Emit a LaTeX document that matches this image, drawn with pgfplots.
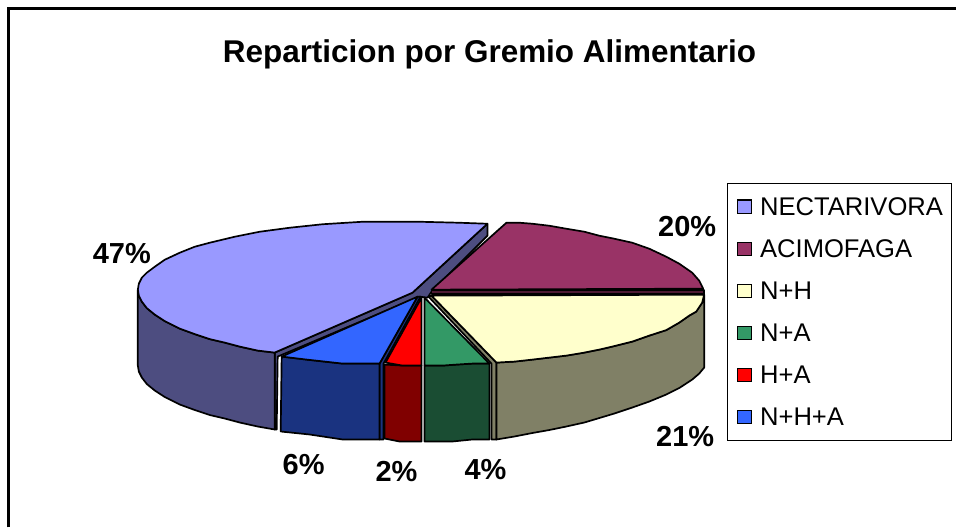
\documentclass[border=0pt]{standalone}
\usepackage{pgfplots}
\pgfplotsset{compat=1.18}
\usepackage{fontspec}
\setmainfont{Liberation Sans}
\definecolor{nect}{HTML}{9999FF}\definecolor{nectS}{HTML}{4D4D80}
\definecolor{acim}{HTML}{993366}\definecolor{acimS}{HTML}{4D1A33}
\definecolor{nh}{HTML}{FFFFCC}\definecolor{nhS}{HTML}{808066}
\definecolor{na}{HTML}{339966}\definecolor{naS}{HTML}{1A4D33}
\definecolor{ha}{HTML}{FF0000}\definecolor{haS}{HTML}{800000}
\definecolor{nha}{HTML}{3366FF}\definecolor{nhaS}{HTML}{1A3380}
\pgfplotsset{
 sl/.style={draw=black,line width=1.7pt,line join=round,fill=#1,forget plot},
 lg/.style={legend image code/.code={\draw[fill=#1,draw=black,line width=1.3pt,line join=miter] (0pt,-6.5pt) rectangle (14pt,7pt);\path (20pt,0pt);\path (-3pt,0pt);}},
}
\begin{document}
\begin{tikzpicture}
\begin{axis}[
 scale only axis,width=957pt,height=528pt,
 xmin=0,xmax=957,ymin=0,ymax=528,y dir=reverse,
 axis lines=none,clip=false,
 legend cell align=left,
 legend style={at={(axis cs:728,184)},anchor=north west,draw=black,line width=1pt,outer sep=0pt,
   inner xsep=7pt,inner ysep=11.5pt,row sep=18.9pt,
   font=\fontsize{25.6}{29}\selectfont,
   /tikz/every even column/.append style={column sep=0pt}},
]
\addlegendimage{lg=nect}\addlegendentry{NECTARIVORA}
\addlegendimage{lg=acim}\addlegendentry{ACIMOFAGA}
\addlegendimage{lg=nh}\addlegendentry{N+H}
\addlegendimage{lg=na}\addlegendentry{N+A}
\addlegendimage{lg=ha}\addlegendentry{H+A}
\addlegendimage{lg=nha}\addlegendentry{N+H+A}

% full page extent
\addplot[draw=none,forget plot] coordinates {(0,0) (957,528)};
% chart frame
\addplot[draw=black,line width=2.2pt,forget plot] coordinates {(8.5,528) (8.5,8.5) (957,8.5)};

% NECTARIVORA: inner strips and side
\addplot[sl=nectS] coordinates {(413,293) (488,224) (488,236) (432,292) (428,298) (420,297) (278,357) (277,430) (275,430) (275,353)} --cycle;
\addplot[sl=nectS] coordinates {(138,290) (138,366) (139,372) (142,378) (147,384.5) (155,391) (165,397.5) (180,405) (195,410.5) (210,415.5) (225,419) (240,423) (258,427) (275,430) (275,353) (258,351) (240,347) (225,343) (210,339.5) (195,334.5) (180,329) (165,321.5) (155,315) (147,308.5) (142,302) (139,296)} --cycle;
\addplot[sl=nect] coordinates {(138,290) (139,284) (142,278) (147,273) (155,267) (165,260) (180,253) (195,247) (210,243) (235,237) (260,232) (290,228) (323,224.5) (363,222) (420,222) (460,223) (488,224) (413,293) (275,353) (258,351) (240,347) (225,343) (210,339.5) (195,334.5) (180,329) (165,321.5) (155,315) (147,308.5) (142,302) (139,296)} --cycle;

% ACIMOFAGA
\addplot[sl=acimS] coordinates {(432,290) (705,290) (705,294) (432,294)} --cycle;
\addplot[sl=acim] coordinates {(432,290) (507,223) (520,223) (533,224) (550,226) (567,229) (585,232) (600,236) (615,239) (633,243) (650,249) (667,257) (680,264) (693,273) (700,281) (704,289)} --cycle;

% N+H+A
\addplot[sl=nhaS] coordinates {(380,364) (418,297) (421,297) (384,364) (384,440) (380,440)} --cycle;
\addplot[sl=nhaS] coordinates {(282,357) (281,432) (310,435) (343,440) (380,440) (380,364) (343,364) (307,360)} --cycle;
\addplot[sl=nha] coordinates {(418,297) (282,357) (307,360) (343,364) (380,364)} --cycle;

% H+A
\addplot[sl=haS] coordinates {(385,365) (385,439) (400,442) (422,442) (422,366) (403,366)} --cycle;
\addplot[sl=ha] coordinates {(422,298) (386,363) (403,366) (422,366)} --cycle;

% N+A
\addplot[sl=naS] coordinates {(425,366) (425,442) (453,442) (473,440) (490,440) (490,364) (473,364) (457,365) (443,366)} --cycle;
\addplot[sl=na] coordinates {(425,298) (490,364) (473,364) (457,365) (443,366) (425,366)} --cycle;

% N+H
\addplot[sl=nhS] coordinates {(429,297) (432,296) (497,363) (497,440) (492,440) (492,364)} --cycle;
\addplot[sl=nhS] coordinates {(497,363) (497,440) (515,437) (533,433.5) (550,430.5) (567,427) (585,423) (600,418.5) (615,414) (633,408) (650,402) (667,395) (680,388.5) (693,380) (700,374) (705,368) (705,295) (703,303) (697,312) (690,316) (680,323) (667,330.5) (650,336) (633,342) (615,346.5) (600,350) (585,353) (567,356) (550,358) (533,360) (515,362)} --cycle;
\addplot[sl=nh] coordinates {(432,296) (705,295) (703,303) (697,312) (690,316) (680,323) (667,330.5) (650,336) (633,342) (615,346.5) (600,350) (585,353) (567,356) (550,358) (533,360) (515,362) (497,363)} --cycle;

\node[font=\fontsize{31.5}{35}\selectfont\bfseries] at (axis cs:490,54) {Reparticion por Gremio Alimentario};
\node[font=\fontsize{29}{33}\selectfont\bfseries] at (axis cs:122,254) {47\%};
\node[font=\fontsize{29}{33}\selectfont\bfseries] at (axis cs:688,227) {20\%};
\node[font=\fontsize{29}{33}\selectfont\bfseries] at (axis cs:686,437) {21\%};
\node[font=\fontsize{29}{33}\selectfont\bfseries] at (axis cs:304,465) {6\%};
\node[font=\fontsize{29}{33}\selectfont\bfseries] at (axis cs:397,472) {2\%};
\node[font=\fontsize{29}{33}\selectfont\bfseries] at (axis cs:486,470) {4\%};
\end{axis}
\end{tikzpicture}
\end{document}
